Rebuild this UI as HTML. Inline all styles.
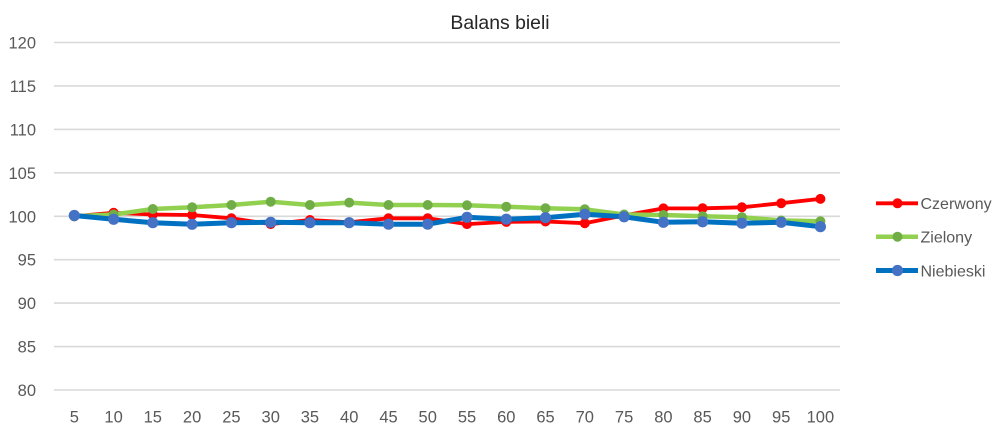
<!DOCTYPE html>
<html>
<head>
<meta charset="utf-8">
<style>
  html,body{margin:0;padding:0;background:#fff;}
  svg{display:block;}
  text{font-family:"Liberation Sans",Arial,sans-serif;}
</style>
</head>
<body>
<svg width="1000" height="431" viewBox="0 0 1000 431" xmlns="http://www.w3.org/2000/svg">
  <rect width="1000" height="431" fill="#ffffff"/>
  <text x="500" y="29" text-anchor="middle" font-size="19.4" fill="#262626">Balans bieli</text>

  <g stroke="#d9d9d9" stroke-width="1.6">
    <line x1="54" y1="42.5" x2="840" y2="42.5"/>
    <line x1="54" y1="85.9" x2="840" y2="85.9"/>
    <line x1="54" y1="129.4" x2="840" y2="129.4"/>
    <line x1="54" y1="172.8" x2="840" y2="172.8"/>
    <line x1="54" y1="216.3" x2="840" y2="216.3"/>
    <line x1="54" y1="259.7" x2="840" y2="259.7"/>
    <line x1="54" y1="303.1" x2="840" y2="303.1"/>
    <line x1="54" y1="346.6" x2="840" y2="346.6"/>
    <line x1="54" y1="390" x2="840" y2="390"/>
  </g>

  <g font-size="16.5" fill="#595959" text-anchor="end">
    <text x="36" y="48.5">120</text>
    <text x="36" y="91.9">115</text>
    <text x="36" y="135.4">110</text>
    <text x="36" y="178.8">105</text>
    <text x="36" y="222.3">100</text>
    <text x="36" y="265.7">95</text>
    <text x="36" y="309.1">90</text>
    <text x="36" y="352.6">85</text>
    <text x="36" y="396">80</text>
  </g>

  <g font-size="16.5" fill="#595959" text-anchor="middle">
    <text x="74.3" y="422.5">5</text>
    <text x="113.6" y="422.5">10</text>
    <text x="152.8" y="422.5">15</text>
    <text x="192.1" y="422.5">20</text>
    <text x="231.4" y="422.5">25</text>
    <text x="270.7" y="422.5">30</text>
    <text x="309.9" y="422.5">35</text>
    <text x="349.2" y="422.5">40</text>
    <text x="388.5" y="422.5">45</text>
    <text x="427.7" y="422.5">50</text>
    <text x="467.0" y="422.5">55</text>
    <text x="506.3" y="422.5">60</text>
    <text x="545.5" y="422.5">65</text>
    <text x="584.8" y="422.5">70</text>
    <text x="624.1" y="422.5">75</text>
    <text x="663.4" y="422.5">80</text>
    <text x="702.6" y="422.5">85</text>
    <text x="741.9" y="422.5">90</text>
    <text x="781.2" y="422.5">95</text>
    <text x="820.4" y="422.5">100</text>
  </g>

  <!-- Czerwony -->
  <polyline fill="none" stroke="#ff0000" stroke-width="3.8" stroke-linejoin="round"
    points="74.3,216.3 113.6,212.8 152.8,214.5 192.1,215.0 231.4,218.3 270.7,224.1 309.9,220.0 349.2,222.3 388.5,218.3 427.7,218.3 467.0,224.1 506.3,221.9 545.5,221.5 584.8,223.2 624.1,215.4 663.4,208.4 702.6,208.3 741.9,207.3 781.2,203.2 820.4,198.9"/>
  <g fill="#ff0000">
    <circle cx="74.3" cy="216.3" r="5"/><circle cx="113.6" cy="212.8" r="5"/><circle cx="152.8" cy="214.5" r="5"/><circle cx="192.1" cy="215.0" r="5"/><circle cx="231.4" cy="218.3" r="5"/><circle cx="270.7" cy="224.1" r="5"/><circle cx="309.9" cy="220.0" r="5"/><circle cx="349.2" cy="222.3" r="5"/><circle cx="388.5" cy="218.3" r="5"/><circle cx="427.7" cy="218.3" r="5"/><circle cx="467.0" cy="224.1" r="5"/><circle cx="506.3" cy="221.9" r="5"/><circle cx="545.5" cy="221.5" r="5"/><circle cx="584.8" cy="223.2" r="5"/><circle cx="624.1" cy="215.4" r="5"/><circle cx="663.4" cy="208.4" r="5"/><circle cx="702.6" cy="208.3" r="5"/><circle cx="741.9" cy="207.3" r="5"/><circle cx="781.2" cy="203.2" r="5"/><circle cx="820.4" cy="198.9" r="5"/>
  </g>

  <!-- Zielony -->
  <polyline fill="none" stroke="#92d050" stroke-width="4.5" stroke-linejoin="round"
    points="74.3,216.3 113.6,214.5 152.8,209.0 192.1,207.3 231.4,205.0 270.7,201.7 309.9,205.0 349.2,202.6 388.5,205.0 427.7,205.0 467.0,205.3 506.3,206.7 545.5,208.3 584.8,209.3 624.1,214.5 663.4,215.0 702.6,216.2 741.9,217.2 781.2,220.5 820.4,221.3"/>
  <g fill="#70ad47">
    <circle cx="74.3" cy="216.3" r="5"/><circle cx="113.6" cy="214.5" r="5"/><circle cx="152.8" cy="209.0" r="5"/><circle cx="192.1" cy="207.3" r="5"/><circle cx="231.4" cy="205.0" r="5"/><circle cx="270.7" cy="201.7" r="5"/><circle cx="309.9" cy="205.0" r="5"/><circle cx="349.2" cy="202.6" r="5"/><circle cx="388.5" cy="205.0" r="5"/><circle cx="427.7" cy="205.0" r="5"/><circle cx="467.0" cy="205.3" r="5"/><circle cx="506.3" cy="206.7" r="5"/><circle cx="545.5" cy="208.3" r="5"/><circle cx="584.8" cy="209.3" r="5"/><circle cx="624.1" cy="214.5" r="5"/><circle cx="663.4" cy="215.0" r="5"/><circle cx="702.6" cy="216.2" r="5"/><circle cx="741.9" cy="217.2" r="5"/><circle cx="781.2" cy="220.5" r="5"/><circle cx="820.4" cy="221.3" r="5"/>
  </g>

  <!-- Niebieski -->
  <polyline fill="none" stroke="#0070c0" stroke-width="5" stroke-linejoin="round"
    points="74.3,215.5 113.6,219.3 152.8,222.7 192.1,224.3 231.4,222.7 270.7,222.3 309.9,222.7 349.2,222.7 388.5,224.2 427.7,224.2 467.0,217.3 506.3,219.2 545.5,217.7 584.8,214.2 624.1,216.8 663.4,222.3 702.6,221.8 741.9,223.2 781.2,222.3 820.4,226.7"/>
  <g fill="#4472c4">
    <circle cx="74.3" cy="215.5" r="5.6"/><circle cx="113.6" cy="219.3" r="5.6"/><circle cx="152.8" cy="222.7" r="5.6"/><circle cx="192.1" cy="224.3" r="5.6"/><circle cx="231.4" cy="222.7" r="5.6"/><circle cx="270.7" cy="222.3" r="5.6"/><circle cx="309.9" cy="222.7" r="5.6"/><circle cx="349.2" cy="222.7" r="5.6"/><circle cx="388.5" cy="224.2" r="5.6"/><circle cx="427.7" cy="224.2" r="5.6"/><circle cx="467.0" cy="217.3" r="5.6"/><circle cx="506.3" cy="219.2" r="5.6"/><circle cx="545.5" cy="217.7" r="5.6"/><circle cx="584.8" cy="214.2" r="5.6"/><circle cx="624.1" cy="216.8" r="5.6"/><circle cx="663.4" cy="222.3" r="5.6"/><circle cx="702.6" cy="221.8" r="5.6"/><circle cx="741.9" cy="223.2" r="5.6"/><circle cx="781.2" cy="222.3" r="5.6"/><circle cx="820.4" cy="226.7" r="5.6"/>
  </g>

  <!-- Legend -->
  <line x1="876" y1="203.3" x2="918" y2="203.3" stroke="#ff0000" stroke-width="3.8"/>
  <circle cx="897.5" cy="203.3" r="5" fill="#ff0000"/>
  <text x="920.5" y="209" font-size="16" fill="#595959">Czerwony</text>

  <line x1="876" y1="236.7" x2="918" y2="236.7" stroke="#92d050" stroke-width="4.5"/>
  <circle cx="897.5" cy="236.7" r="5" fill="#70ad47"/>
  <text x="920.5" y="242.5" font-size="16" fill="#595959">Zielony</text>

  <line x1="876" y1="270.5" x2="918" y2="270.5" stroke="#0070c0" stroke-width="5"/>
  <circle cx="897.5" cy="270.5" r="5.6" fill="#4472c4"/>
  <text x="920.5" y="276.3" font-size="16" fill="#595959">Niebieski</text>
</svg>
</body>
</html>
